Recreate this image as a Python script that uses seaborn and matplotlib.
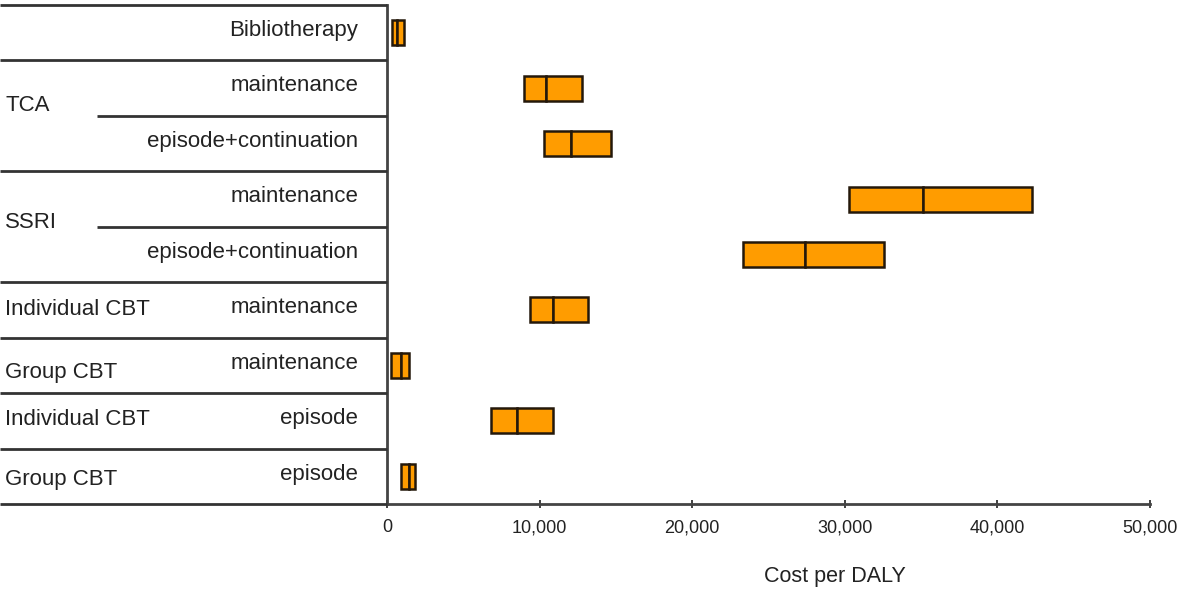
import numpy as np
import pandas as pd
import matplotlib
matplotlib.use("Agg")
import matplotlib.pyplot as plt
from matplotlib.ticker import FuncFormatter
import seaborn as sns

# interventions (one row each, top to bottom)
rows = ["Bibliotherapy", "TCA maintenance", "TCA episode+continuation",
        "SSRI maintenance", "SSRI episode+continuation",
        "Individual CBT maintenance", "Group CBT maintenance",
        "Individual CBT episode", "Group CBT episode"]
sub_labels = ["Bibliotherapy", "maintenance", "episode+continuation",
              "maintenance", "episode+continuation", "maintenance",
              "maintenance", "episode", "episode"]
group_labels = ["TCA", "SSRI", "Individual CBT", "Group CBT", "Individual CBT", "Group CBT"]
group_rows = [1.31, 3.43, 4.99, 6.13, 6.98, 8.05]

# cost per DALY: low, point estimate, high
low = [330, 9000, 10300, 30300, 23300, 9400, 250, 6800, 900]
mid = [650, 10400, 12050, 35100, 27400, 10900, 900, 8500, 1450]
high = [1100, 12800, 14700, 42300, 32600, 13200, 1450, 10900, 1850]

df = pd.DataFrame({"row": rows, "low": low, "mid": mid, "high": high})
df["seg1"] = df["mid"] - df["low"]
df["seg2"] = df["high"] - df["mid"]

sns.set_style("white")
plt.rcParams["font.family"] = ["Liberation Sans", "DejaVu Sans"]

fig = plt.figure(figsize=(11.88, 5.91), dpi=100)
ax_bottom = 1 - 504 / 591
ax_top = 1 - 5 / 591
ax = fig.add_axes([387 / 1188, ax_bottom, (1150 - 387) / 1188, ax_top - ax_bottom])
ax_t = fig.add_axes([0, ax_bottom, 387 / 1188, ax_top - ax_bottom])

orange = "#FF9C00"
edge = "#24180a"

sns.barplot(data=df, y="row", x="seg1", left=df["low"].values, orient="y", order=rows,
            width=0.45, color=orange, saturation=1, edgecolor=edge, linewidth=1.8,
            errorbar=None, ax=ax)
sns.barplot(data=df, y="row", x="seg2", left=df["mid"].values, orient="y", order=rows,
            width=0.45, color=orange, saturation=1, edgecolor=edge, linewidth=1.8,
            errorbar=None, ax=ax)

ax.set_xlim(0, 50000)
ax.set_ylim(8.5, -0.5)
ax.set_yticks([])
ax.set_ylabel("")
ax.set_xticks(np.arange(0, 50001, 10000))
ax.xaxis.set_major_formatter(FuncFormatter(lambda v, p: f"{int(v):,}"))
ax.tick_params(axis="x", direction="inout", length=6, width=1.3, color="#333333",
               labelsize=13, labelcolor="#222222", pad=8, bottom=True)
ax.set_xlabel("Cost per DALY", fontsize=15.5, color="#222222")
ax.xaxis.set_label_coords(0.587, -0.125)
ax.xaxis.label.set_va("top")
for s in ["top", "right"]:
    ax.spines[s].set_visible(False)
for s in ["left", "bottom"]:
    ax.spines[s].set_color("#444444")
    ax.spines[s].set_linewidth(2)

# left-hand label table
ax_t.set_xlim(0, 1)
ax_t.set_ylim(8.5, -0.5)
ax_t.axis("off")
line_kw = dict(color="#333333", linewidth=2, clip_on=False)
for y in [-0.5, 0.5, 2.5, 4.5, 5.5, 6.5, 7.5, 8.5]:
    ax_t.hlines(y, 0, 1, **line_kw)
for y in [1.5, 3.5]:
    ax_t.hlines(y, 0.25, 1, **line_kw)

for i, lab in enumerate(sub_labels):
    ax_t.text(0.925, i - 0.04, lab, ha="right", va="center", fontsize=16, color="#222222")
for lab, y in zip(group_labels, group_rows):
    ax_t.text(0.013, y, lab, ha="left", va="center", fontsize=16, color="#222222")

fig.savefig("out.png", dpi=100)
